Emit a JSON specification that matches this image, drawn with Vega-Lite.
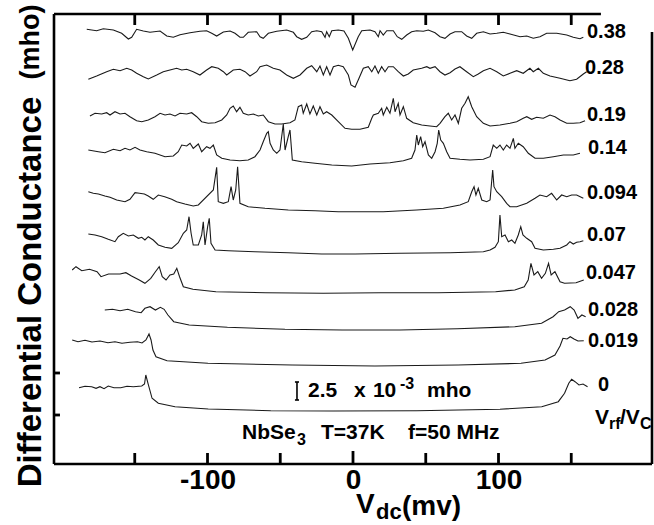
{
"$schema": "https://vega.github.io/schema/vega-lite/v6.json",
"width": 598, "height": 450,
"autosize": "none",
"padding": {"left": 54, "top": 14, "right": 2, "bottom": 61},
"background": "white",
"config": {"view": {"stroke": null}, "axisX": {"domain": false, "ticks": false, "grid": false, "title": null, "labelFont": "Liberation Sans", "labelFontSize": 28, "labelFontWeight": "bold", "labelColor": "black", "labelPadding": 2, "labelFlush": false}},
"datasets": {
"curves": [
{"c":"0.38","v":-183.0,"g":434.7},{"c":"0.38","v":-176.2,"g":433.3},{"c":"0.38","v":-171.6,"g":435.3},{"c":"0.38","v":-164.7,"g":434},{"c":"0.38","v":-159.0,"g":430.7},{"c":"0.38","v":-154.4,"g":425},{"c":"0.38","v":-152.1,"g":426.7},{"c":"0.38","v":-148.7,"g":434.7},{"c":"0.38","v":-144.1,"g":433},{"c":"0.38","v":-139.5,"g":431.7},{"c":"0.38","v":-132.6,"g":433},{"c":"0.38","v":-128.0,"g":428},{"c":"0.38","v":-123.5,"g":426.7},{"c":"0.38","v":-118.9,"g":429.3},{"c":"0.38","v":-112.0,"g":431.3},{"c":"0.38","v":-105.2,"g":432.7},{"c":"0.38","v":-100.6,"g":433.3},{"c":"0.38","v":-97.1,"g":430.7},{"c":"0.38","v":-93.7,"g":428},{"c":"0.38","v":-89.1,"g":432},{"c":"0.38","v":-84.5,"g":433},{"c":"0.38","v":-81.1,"g":430.7},{"c":"0.38","v":-77.7,"g":426.7},{"c":"0.38","v":-75.4,"g":426.7},{"c":"0.38","v":-72.0,"g":431.7},{"c":"0.38","v":-66.2,"g":432.3},{"c":"0.38","v":-63.9,"g":427.3},{"c":"0.38","v":-61.7,"g":425.7},{"c":"0.38","v":-58.2,"g":430.7},{"c":"0.38","v":-52.4,"g":432.7},{"c":"0.38","v":-45.6,"g":434},{"c":"0.38","v":-41.0,"g":431.7},{"c":"0.38","v":-38.7,"g":427.3},{"c":"0.38","v":-35.3,"g":424.7},{"c":"0.38","v":-31.8,"g":426.7},{"c":"0.38","v":-28.4,"g":432.3},{"c":"0.38","v":-24.9,"g":433.3},{"c":"0.38","v":-21.5,"g":432.3},{"c":"0.38","v":-19.2,"g":426.7},{"c":"0.38","v":-18.1,"g":432.3},{"c":"0.38","v":-16.3,"g":427.3},{"c":"0.38","v":-14.6,"g":433.3},{"c":"0.38","v":-10.1,"g":434},{"c":"0.38","v":-6.2,"g":433},{"c":"0.38","v":-3.2,"g":425.7},{"c":"0.38","v":-0.2,"g":414},{"c":"0.38","v":3.6,"g":427.3},{"c":"0.38","v":6.0,"g":433.3},{"c":"0.38","v":11.7,"g":434},{"c":"0.38","v":15.1,"g":432.3},{"c":"0.38","v":17.4,"g":427.3},{"c":"0.38","v":18.6,"g":433.3},{"c":"0.38","v":20.8,"g":429},{"c":"0.38","v":23.2,"g":433.3},{"c":"0.38","v":27.7,"g":433.3},{"c":"0.38","v":30.4,"g":427.3},{"c":"0.38","v":33.5,"g":424.7},{"c":"0.38","v":36.9,"g":429},{"c":"0.38","v":40.3,"g":432.3},{"c":"0.38","v":43.8,"g":433.3},{"c":"0.38","v":48.3,"g":432.7},{"c":"0.38","v":51.8,"g":434},{"c":"0.38","v":56.4,"g":431.3},{"c":"0.38","v":59.8,"g":427.3},{"c":"0.38","v":63.2,"g":425.7},{"c":"0.38","v":66.7,"g":430},{"c":"0.38","v":70.1,"g":432.3},{"c":"0.38","v":74.7,"g":432.3},{"c":"0.38","v":78.1,"g":428},{"c":"0.38","v":81.6,"g":425.7},{"c":"0.38","v":85.0,"g":430.7},{"c":"0.38","v":89.6,"g":432.3},{"c":"0.38","v":94.2,"g":430},{"c":"0.38","v":98.8,"g":430.7},{"c":"0.38","v":103.3,"g":431.7},{"c":"0.38","v":107.9,"g":430},{"c":"0.38","v":114.8,"g":427.3},{"c":"0.38","v":119.4,"g":428},{"c":"0.38","v":123.9,"g":425.7},{"c":"0.38","v":128.5,"g":427.3},{"c":"0.38","v":133.1,"g":430.7},{"c":"0.38","v":140.0,"g":430.7},{"c":"0.38","v":146.9,"g":429},{"c":"0.38","v":151.4,"g":426.7},{"c":"0.38","v":156.0,"g":425.3},{"c":"0.38","v":158.3,"g":426.7},

{"c":"0.28","v":-181.9,"g":384.7},{"c":"0.28","v":-176.2,"g":388},{"c":"0.28","v":-169.3,"g":392.3},{"c":"0.28","v":-164.7,"g":394.7},{"c":"0.28","v":-160.1,"g":393.3},{"c":"0.28","v":-155.5,"g":395.7},{"c":"0.28","v":-152.1,"g":394},{"c":"0.28","v":-148.7,"g":390.7},{"c":"0.28","v":-144.1,"g":387.3},{"c":"0.28","v":-140.7,"g":385},{"c":"0.28","v":-134.9,"g":389},{"c":"0.28","v":-130.4,"g":392.3},{"c":"0.28","v":-125.8,"g":394},{"c":"0.28","v":-121.2,"g":395.7},{"c":"0.28","v":-117.7,"g":394},{"c":"0.28","v":-114.3,"g":394.7},{"c":"0.28","v":-109.8,"g":392.3},{"c":"0.28","v":-105.2,"g":389},{"c":"0.28","v":-100.6,"g":394},{"c":"0.28","v":-97.1,"g":397.3},{"c":"0.28","v":-92.6,"g":395.7},{"c":"0.28","v":-89.1,"g":392.3},{"c":"0.28","v":-86.8,"g":389},{"c":"0.28","v":-82.3,"g":394},{"c":"0.28","v":-77.7,"g":394.7},{"c":"0.28","v":-74.2,"g":392.3},{"c":"0.28","v":-70.8,"g":388},{"c":"0.28","v":-66.2,"g":392.3},{"c":"0.28","v":-63.9,"g":397.3},{"c":"0.28","v":-59.3,"g":399},{"c":"0.28","v":-54.8,"g":395.7},{"c":"0.28","v":-50.2,"g":394},{"c":"0.28","v":-45.6,"g":389},{"c":"0.28","v":-41.0,"g":385.7},{"c":"0.28","v":-36.4,"g":389},{"c":"0.28","v":-31.8,"g":395.7},{"c":"0.28","v":-28.4,"g":398.3},{"c":"0.28","v":-24.9,"g":392.3},{"c":"0.28","v":-22.7,"g":398},{"c":"0.28","v":-20.4,"g":389},{"c":"0.28","v":-18.1,"g":397.3},{"c":"0.28","v":-15.8,"g":389},{"c":"0.28","v":-13.5,"g":397.3},{"c":"0.28","v":-10.1,"g":398.7},{"c":"0.28","v":-6.7,"g":397.3},{"c":"0.28","v":-3.2,"g":389},{"c":"0.28","v":-1.4,"g":379},{"c":"0.28","v":1.4,"g":376.7},{"c":"0.28","v":3.6,"g":384},{"c":"0.28","v":7.1,"g":395.7},{"c":"0.28","v":10.5,"g":397.3},{"c":"0.28","v":12.9,"g":392.3},{"c":"0.28","v":15.1,"g":398},{"c":"0.28","v":17.4,"g":390.7},{"c":"0.28","v":19.7,"g":397.3},{"c":"0.28","v":22.0,"g":392.3},{"c":"0.28","v":24.3,"g":397.3},{"c":"0.28","v":27.7,"g":397.3},{"c":"0.28","v":31.1,"g":392.3},{"c":"0.28","v":34.6,"g":388},{"c":"0.28","v":38.0,"g":390},{"c":"0.28","v":41.4,"g":394},{"c":"0.28","v":47.2,"g":395.7},{"c":"0.28","v":50.7,"g":397.3},{"c":"0.28","v":52.9,"g":395.7},{"c":"0.28","v":56.4,"g":397.3},{"c":"0.28","v":59.8,"g":392.3},{"c":"0.28","v":63.2,"g":389},{"c":"0.28","v":66.7,"g":391.3},{"c":"0.28","v":70.1,"g":395},{"c":"0.28","v":73.5,"g":397.3},{"c":"0.28","v":78.1,"g":392.3},{"c":"0.28","v":82.7,"g":387.3},{"c":"0.28","v":86.1,"g":390},{"c":"0.28","v":89.6,"g":393.3},{"c":"0.28","v":94.2,"g":395.7},{"c":"0.28","v":98.8,"g":392.3},{"c":"0.28","v":103.3,"g":388},{"c":"0.28","v":107.9,"g":390.7},{"c":"0.28","v":112.5,"g":393.3},{"c":"0.28","v":117.0,"g":390.7},{"c":"0.28","v":121.6,"g":395.7},{"c":"0.28","v":123.9,"g":392.3},{"c":"0.28","v":127.4,"g":395.7},{"c":"0.28","v":130.8,"g":390.7},{"c":"0.28","v":135.4,"g":388},{"c":"0.28","v":142.3,"g":385.7},{"c":"0.28","v":149.1,"g":383.3},{"c":"0.28","v":153.7,"g":384.7},{"c":"0.28","v":158.3,"g":390},{"c":"0.28","v":160.6,"g":392.3},

{"c":"0.19","v":-180.8,"g":348},{"c":"0.19","v":-177.3,"g":350.7},{"c":"0.19","v":-172.7,"g":350},{"c":"0.19","v":-169.3,"g":351.3},{"c":"0.19","v":-167.0,"g":349},{"c":"0.19","v":-163.6,"g":352.3},{"c":"0.19","v":-160.1,"g":350},{"c":"0.19","v":-156.7,"g":350.7},{"c":"0.19","v":-153.3,"g":347.3},{"c":"0.19","v":-148.7,"g":343.3},{"c":"0.19","v":-145.2,"g":342.3},{"c":"0.19","v":-140.7,"g":344},{"c":"0.19","v":-136.1,"g":347.3},{"c":"0.19","v":-132.6,"g":350.7},{"c":"0.19","v":-129.2,"g":349},{"c":"0.19","v":-125.8,"g":350},{"c":"0.19","v":-122.3,"g":348},{"c":"0.19","v":-118.9,"g":350.7},{"c":"0.19","v":-114.3,"g":350},{"c":"0.19","v":-110.9,"g":351.3},{"c":"0.19","v":-107.4,"g":347.3},{"c":"0.19","v":-104.0,"g":342.3},{"c":"0.19","v":-99.5,"g":340.7},{"c":"0.19","v":-94.8,"g":341.3},{"c":"0.19","v":-90.2,"g":344},{"c":"0.19","v":-86.8,"g":349},{"c":"0.19","v":-84.5,"g":355.7},{"c":"0.19","v":-82.3,"g":358},{"c":"0.19","v":-80.0,"g":352.3},{"c":"0.19","v":-77.7,"g":356.7},{"c":"0.19","v":-75.4,"g":350.7},{"c":"0.19","v":-72.0,"g":349},{"c":"0.19","v":-68.5,"g":350},{"c":"0.19","v":-65.1,"g":348},{"c":"0.19","v":-61.7,"g":349},{"c":"0.19","v":-58.2,"g":342.3},{"c":"0.19","v":-53.6,"g":340},{"c":"0.19","v":-49.0,"g":340},{"c":"0.19","v":-43.3,"g":341.3},{"c":"0.19","v":-39.9,"g":344},{"c":"0.19","v":-37.6,"g":357.3},{"c":"0.19","v":-35.3,"g":359},{"c":"0.19","v":-34.2,"g":350.7},{"c":"0.19","v":-31.8,"g":360},{"c":"0.19","v":-29.6,"g":350},{"c":"0.19","v":-27.3,"g":358},{"c":"0.19","v":-24.9,"g":349},{"c":"0.19","v":-22.7,"g":357.3},{"c":"0.19","v":-20.4,"g":350},{"c":"0.19","v":-18.1,"g":352.3},{"c":"0.19","v":-14.6,"g":349},{"c":"0.19","v":-10.1,"g":342.3},{"c":"0.19","v":-5.5,"g":335.7},{"c":"0.19","v":-0.9,"g":334.7},{"c":"0.19","v":4.8,"g":334.7},{"c":"0.19","v":10.5,"g":336.7},{"c":"0.19","v":12.9,"g":345.7},{"c":"0.19","v":14.0,"g":349},{"c":"0.19","v":17.4,"g":350.7},{"c":"0.19","v":19.7,"g":355.7},{"c":"0.19","v":20.8,"g":349},{"c":"0.19","v":23.2,"g":356.7},{"c":"0.19","v":25.4,"g":350.7},{"c":"0.19","v":27.7,"g":365.7},{"c":"0.19","v":28.9,"g":352.3},{"c":"0.19","v":31.1,"g":360.7},{"c":"0.19","v":32.3,"g":349},{"c":"0.19","v":34.6,"g":357.3},{"c":"0.19","v":36.9,"g":345.7},{"c":"0.19","v":41.4,"g":341.3},{"c":"0.19","v":47.2,"g":339},{"c":"0.19","v":52.9,"g":338},{"c":"0.19","v":57.5,"g":337.3},{"c":"0.19","v":59.8,"g":340.7},{"c":"0.19","v":63.2,"g":347.3},{"c":"0.19","v":65.5,"g":350.7},{"c":"0.19","v":67.8,"g":344},{"c":"0.19","v":70.1,"g":349},{"c":"0.19","v":72.4,"g":340.7},{"c":"0.19","v":74.7,"g":355.7},{"c":"0.19","v":77.0,"g":360.7},{"c":"0.19","v":79.2,"g":367.3},{"c":"0.19","v":81.6,"g":357.3},{"c":"0.19","v":85.0,"g":347.3},{"c":"0.19","v":89.6,"g":340.7},{"c":"0.19","v":94.2,"g":338},{"c":"0.19","v":101.0,"g":339},{"c":"0.19","v":107.9,"g":340.7},{"c":"0.19","v":112.5,"g":342.3},{"c":"0.19","v":117.0,"g":345.7},{"c":"0.19","v":119.4,"g":347.3},{"c":"0.19","v":122.8,"g":344.7},{"c":"0.19","v":126.2,"g":346.7},{"c":"0.19","v":130.8,"g":345.7},{"c":"0.19","v":135.4,"g":349},{"c":"0.19","v":138.8,"g":347.3},{"c":"0.19","v":142.3,"g":344},{"c":"0.19","v":146.9,"g":340.7},{"c":"0.19","v":151.4,"g":340.7},{"c":"0.19","v":156.0,"g":341.3},{"c":"0.19","v":159.5,"g":343.3},

{"c":"0.14","v":-181.9,"g":314},{"c":"0.14","v":-175.0,"g":312.3},{"c":"0.14","v":-170.5,"g":311.3},{"c":"0.14","v":-164.7,"g":314.7},{"c":"0.14","v":-160.1,"g":313.3},{"c":"0.14","v":-156.7,"g":315.7},{"c":"0.14","v":-153.3,"g":314},{"c":"0.14","v":-149.8,"g":316.7},{"c":"0.14","v":-146.4,"g":314},{"c":"0.14","v":-141.8,"g":312.3},{"c":"0.14","v":-136.1,"g":310.7},{"c":"0.14","v":-129.2,"g":307.3},{"c":"0.14","v":-123.5,"g":308},{"c":"0.14","v":-120.1,"g":312.3},{"c":"0.14","v":-117.7,"g":319},{"c":"0.14","v":-114.3,"g":318},{"c":"0.14","v":-112.0,"g":320.7},{"c":"0.14","v":-109.8,"g":315.7},{"c":"0.14","v":-106.3,"g":320},{"c":"0.14","v":-104.0,"g":312.3},{"c":"0.14","v":-100.6,"g":317.3},{"c":"0.14","v":-98.3,"g":315.7},{"c":"0.14","v":-96.0,"g":319},{"c":"0.14","v":-93.7,"g":309},{"c":"0.14","v":-90.2,"g":305.7},{"c":"0.14","v":-84.5,"g":304},{"c":"0.14","v":-77.7,"g":303.3},{"c":"0.14","v":-72.0,"g":304},{"c":"0.14","v":-67.4,"g":307.3},{"c":"0.14","v":-63.9,"g":314},{"c":"0.14","v":-61.7,"g":322.3},{"c":"0.14","v":-59.3,"g":330.7},{"c":"0.14","v":-58.2,"g":332.3},{"c":"0.14","v":-57.0,"g":320.7},{"c":"0.14","v":-54.8,"g":314},{"c":"0.14","v":-52.4,"g":310.7},{"c":"0.14","v":-50.2,"g":314},{"c":"0.14","v":-47.9,"g":340},{"c":"0.14","v":-46.7,"g":314},{"c":"0.14","v":-44.5,"g":327.3},{"c":"0.14","v":-43.3,"g":334},{"c":"0.14","v":-41.7,"g":304},{"c":"0.14","v":-35.3,"g":302.3},{"c":"0.14","v":-26.1,"g":300.7},{"c":"0.14","v":-14.6,"g":299},{"c":"0.14","v":-0.9,"g":298},{"c":"0.14","v":11.7,"g":300},{"c":"0.14","v":25.4,"g":301.3},{"c":"0.14","v":34.6,"g":303.3},{"c":"0.14","v":40.3,"g":305.7},{"c":"0.14","v":42.6,"g":314},{"c":"0.14","v":43.8,"g":329},{"c":"0.14","v":44.9,"g":319},{"c":"0.14","v":46.5,"g":327.3},{"c":"0.14","v":47.9,"g":317.3},{"c":"0.14","v":49.5,"g":322.3},{"c":"0.14","v":51.8,"g":309},{"c":"0.14","v":54.1,"g":305.7},{"c":"0.14","v":56.4,"g":312.3},{"c":"0.14","v":57.9,"g":320.7},{"c":"0.14","v":58.9,"g":334},{"c":"0.14","v":60.3,"g":324},{"c":"0.14","v":62.1,"g":320.7},{"c":"0.14","v":64.4,"g":312.3},{"c":"0.14","v":66.7,"g":305.7},{"c":"0.14","v":73.5,"g":304.7},{"c":"0.14","v":80.4,"g":304},{"c":"0.14","v":89.6,"g":304.7},{"c":"0.14","v":94.2,"g":307.3},{"c":"0.14","v":96.4,"g":319},{"c":"0.14","v":98.8,"g":315.7},{"c":"0.14","v":101.0,"g":319},{"c":"0.14","v":103.3,"g":314},{"c":"0.14","v":105.6,"g":319},{"c":"0.14","v":107.9,"g":315.7},{"c":"0.14","v":110.2,"g":325.7},{"c":"0.14","v":111.3,"g":315.7},{"c":"0.14","v":113.6,"g":320.7},{"c":"0.14","v":117.0,"g":317.3},{"c":"0.14","v":120.5,"g":310.7},{"c":"0.14","v":125.1,"g":305.7},{"c":"0.14","v":130.8,"g":305.7},{"c":"0.14","v":137.7,"g":307.3},{"c":"0.14","v":144.6,"g":309},{"c":"0.14","v":151.4,"g":309},{"c":"0.14","v":156.0,"g":310.7},

{"c":"0.094","v":-181.9,"g":272.3},{"c":"0.094","v":-178.5,"g":270.7},{"c":"0.094","v":-175.0,"g":270},{"c":"0.094","v":-170.5,"g":268},{"c":"0.094","v":-167.0,"g":266.7},{"c":"0.094","v":-162.4,"g":264},{"c":"0.094","v":-156.7,"g":262.3},{"c":"0.094","v":-153.3,"g":264.7},{"c":"0.094","v":-149.8,"g":271.3},{"c":"0.094","v":-146.8,"g":270.7},{"c":"0.094","v":-143.4,"g":270},{"c":"0.094","v":-140.7,"g":268},{"c":"0.094","v":-137.3,"g":264.7},{"c":"0.094","v":-133.8,"g":269},{"c":"0.094","v":-129.4,"g":267.3},{"c":"0.094","v":-124.6,"g":264.7},{"c":"0.094","v":-121.2,"g":262.3},{"c":"0.094","v":-115.5,"g":260},{"c":"0.094","v":-109.8,"g":258},{"c":"0.094","v":-106.3,"g":259},{"c":"0.094","v":-96.0,"g":274},{"c":"0.094","v":-93.7,"g":296.7},{"c":"0.094","v":-92.6,"g":262.3},{"c":"0.094","v":-89.1,"g":260.7},{"c":"0.094","v":-85.7,"g":262.3},{"c":"0.094","v":-83.8,"g":277.3},{"c":"0.094","v":-82.3,"g":264},{"c":"0.094","v":-80.6,"g":274},{"c":"0.094","v":-79.3,"g":297.3},{"c":"0.094","v":-77.7,"g":260.7},{"c":"0.094","v":-72.0,"g":257.3},{"c":"0.094","v":-60.5,"g":255.7},{"c":"0.094","v":-44.5,"g":254},{"c":"0.094","v":-26.1,"g":253.3},{"c":"0.094","v":-10.1,"g":252.3},{"c":"0.094","v":1.4,"g":252.3},{"c":"0.094","v":20.8,"g":252.3},{"c":"0.094","v":43.8,"g":254},{"c":"0.094","v":62.1,"g":255.7},{"c":"0.094","v":73.5,"g":259},{"c":"0.094","v":79.2,"g":262.3},{"c":"0.094","v":81.6,"g":272.3},{"c":"0.094","v":83.2,"g":277.3},{"c":"0.094","v":84.5,"g":269},{"c":"0.094","v":86.1,"g":275.7},{"c":"0.094","v":88.5,"g":264},{"c":"0.094","v":91.9,"g":262.3},{"c":"0.094","v":94.2,"g":264},{"c":"0.094","v":96.0,"g":294},{"c":"0.094","v":96.9,"g":277.3},{"c":"0.094","v":98.8,"g":272.3},{"c":"0.094","v":102.2,"g":267.3},{"c":"0.094","v":105.6,"g":260.7},{"c":"0.094","v":107.9,"g":257.3},{"c":"0.094","v":112.5,"g":257.3},{"c":"0.094","v":119.4,"g":260.7},{"c":"0.094","v":125.1,"g":265.7},{"c":"0.094","v":128.5,"g":269},{"c":"0.094","v":133.1,"g":267.3},{"c":"0.094","v":136.5,"g":270.7},{"c":"0.094","v":140.0,"g":264},{"c":"0.094","v":143.4,"g":269},{"c":"0.094","v":146.9,"g":267.3},{"c":"0.094","v":150.3,"g":269},{"c":"0.094","v":153.7,"g":269},{"c":"0.094","v":158.3,"g":265.7},

{"c":"0.07","v":-181.9,"g":230},{"c":"0.07","v":-177.3,"g":229},{"c":"0.07","v":-172.7,"g":227.3},{"c":"0.07","v":-168.2,"g":224.7},{"c":"0.07","v":-163.6,"g":222.3},{"c":"0.07","v":-161.3,"g":227.3},{"c":"0.07","v":-157.9,"g":230.7},{"c":"0.07","v":-154.4,"g":228},{"c":"0.07","v":-151.0,"g":229},{"c":"0.07","v":-147.5,"g":225.7},{"c":"0.07","v":-145.2,"g":226.7},{"c":"0.07","v":-143.0,"g":224},{"c":"0.07","v":-140.7,"g":227.3},{"c":"0.07","v":-137.3,"g":224},{"c":"0.07","v":-133.8,"g":219},{"c":"0.07","v":-129.2,"g":216.7},{"c":"0.07","v":-124.6,"g":215.7},{"c":"0.07","v":-120.1,"g":221.3},{"c":"0.07","v":-116.6,"g":230.7},{"c":"0.07","v":-114.3,"g":234},{"c":"0.07","v":-112.7,"g":247.3},{"c":"0.07","v":-111.3,"g":231},{"c":"0.07","v":-109.8,"g":219},{"c":"0.07","v":-106.3,"g":219},{"c":"0.07","v":-104.0,"g":229},{"c":"0.07","v":-102.9,"g":242.3},{"c":"0.07","v":-101.7,"g":219},{"c":"0.07","v":-99.9,"g":237.3},{"c":"0.07","v":-98.8,"g":245.7},{"c":"0.07","v":-97.6,"g":220.7},{"c":"0.07","v":-94.8,"g":214},{"c":"0.07","v":-85.7,"g":213.3},{"c":"0.07","v":-67.4,"g":212.3},{"c":"0.07","v":-44.5,"g":211.3},{"c":"0.07","v":-21.5,"g":210},{"c":"0.07","v":1.4,"g":210},{"c":"0.07","v":32.3,"g":210.7},{"c":"0.07","v":66.7,"g":211.3},{"c":"0.07","v":89.6,"g":212.3},{"c":"0.07","v":94.2,"g":214},{"c":"0.07","v":97.6,"g":216.7},{"c":"0.07","v":99.9,"g":222.3},{"c":"0.07","v":101.0,"g":249},{"c":"0.07","v":102.2,"g":227.3},{"c":"0.07","v":104.5,"g":229},{"c":"0.07","v":106.8,"g":222.3},{"c":"0.07","v":109.1,"g":224},{"c":"0.07","v":111.3,"g":220.7},{"c":"0.07","v":113.6,"g":229},{"c":"0.07","v":115.3,"g":237.3},{"c":"0.07","v":116.8,"g":229},{"c":"0.07","v":119.4,"g":225.7},{"c":"0.07","v":122.8,"g":222.3},{"c":"0.07","v":125.1,"g":215.7},{"c":"0.07","v":130.8,"g":214},{"c":"0.07","v":137.7,"g":214.7},{"c":"0.07","v":142.3,"g":215.7},{"c":"0.07","v":146.9,"g":219},{"c":"0.07","v":149.1,"g":222.3},{"c":"0.07","v":151.4,"g":220},{"c":"0.07","v":153.7,"g":221.7},{"c":"0.07","v":156.0,"g":222.3},{"c":"0.07","v":158.3,"g":223.3},

{"c":"0.047","v":-193.0,"g":194},{"c":"0.047","v":-190.4,"g":197.3},{"c":"0.047","v":-186.4,"g":193.3},{"c":"0.047","v":-181.1,"g":194.7},{"c":"0.047","v":-175.9,"g":192.3},{"c":"0.047","v":-173.2,"g":187.3},{"c":"0.047","v":-168.0,"g":190},{"c":"0.047","v":-160.1,"g":190},{"c":"0.047","v":-156.1,"g":191.3},{"c":"0.047","v":-152.2,"g":188},{"c":"0.047","v":-146.9,"g":184},{"c":"0.047","v":-143.0,"g":180.7},{"c":"0.047","v":-139.0,"g":185.7},{"c":"0.047","v":-135.8,"g":192.3},{"c":"0.047","v":-133.2,"g":197.3},{"c":"0.047","v":-131.1,"g":187.3},{"c":"0.047","v":-128.5,"g":184},{"c":"0.047","v":-125.8,"g":189},{"c":"0.047","v":-123.2,"g":190},{"c":"0.047","v":-121.1,"g":195.7},{"c":"0.047","v":-119.2,"g":187.3},{"c":"0.047","v":-116.6,"g":177.3},{"c":"0.047","v":-110.0,"g":174.7},{"c":"0.047","v":-94.2,"g":172.3},{"c":"0.047","v":-60.0,"g":171.3},{"c":"0.047","v":-20.5,"g":170.7},{"c":"0.047","v":19.0,"g":171.3},{"c":"0.047","v":58.4,"g":171.3},{"c":"0.047","v":98.0,"g":172.3},{"c":"0.047","v":111.2,"g":174},{"c":"0.047","v":117.7,"g":177.3},{"c":"0.047","v":120.4,"g":184},{"c":"0.047","v":122.3,"g":200.7},{"c":"0.047","v":124.4,"g":189},{"c":"0.047","v":127.0,"g":192.3},{"c":"0.047","v":129.6,"g":185.7},{"c":"0.047","v":132.2,"g":190.7},{"c":"0.047","v":134.4,"g":200.7},{"c":"0.047","v":136.2,"g":189},{"c":"0.047","v":138.8,"g":192.3},{"c":"0.047","v":142.3,"g":182.3},{"c":"0.047","v":145.4,"g":180.7},{"c":"0.047","v":153.3,"g":181.3},{"c":"0.047","v":158.6,"g":184},

{"c":"0.028","v":-170.6,"g":154},{"c":"0.028","v":-165.3,"g":154.7},{"c":"0.028","v":-160.1,"g":153.3},{"c":"0.028","v":-154.8,"g":154.7},{"c":"0.028","v":-149.5,"g":152.3},{"c":"0.028","v":-145.6,"g":151.3},{"c":"0.028","v":-143.0,"g":155.7},{"c":"0.028","v":-139.5,"g":157.3},{"c":"0.028","v":-135.8,"g":154},{"c":"0.028","v":-132.4,"g":156.7},{"c":"0.028","v":-129.8,"g":154.7},{"c":"0.028","v":-127.2,"g":149},{"c":"0.028","v":-123.2,"g":142.3},{"c":"0.028","v":-112.6,"g":139},{"c":"0.028","v":-86.3,"g":136.7},{"c":"0.028","v":-46.8,"g":134.7},{"c":"0.028","v":-7.3,"g":134},{"c":"0.028","v":32.2,"g":134},{"c":"0.028","v":71.7,"g":135.3},{"c":"0.028","v":111.2,"g":137.3},{"c":"0.028","v":129.6,"g":140.7},{"c":"0.028","v":137.5,"g":147.3},{"c":"0.028","v":141.4,"g":152.3},{"c":"0.028","v":145.4,"g":154},{"c":"0.028","v":149.3,"g":157.3},{"c":"0.028","v":152.0,"g":154},{"c":"0.028","v":154.6,"g":145.7},{"c":"0.028","v":157.3,"g":149},{"c":"0.028","v":159.9,"g":147.3},

{"c":"0.019","v":-193.0,"g":124},{"c":"0.019","v":-189.0,"g":122.3},{"c":"0.019","v":-184.2,"g":123.7},{"c":"0.019","v":-179.4,"g":122},{"c":"0.019","v":-173.9,"g":123},{"c":"0.019","v":-168.4,"g":121.3},{"c":"0.019","v":-163.6,"g":122.3},{"c":"0.019","v":-158.8,"g":120.7},{"c":"0.019","v":-153.3,"g":121.7},{"c":"0.019","v":-148.1,"g":122.3},{"c":"0.019","v":-145.0,"g":121},{"c":"0.019","v":-142.3,"g":124},{"c":"0.019","v":-140.2,"g":130},{"c":"0.019","v":-138.8,"g":124},{"c":"0.019","v":-137.5,"g":114},{"c":"0.019","v":-135.4,"g":107.3},{"c":"0.019","v":-127.8,"g":103.3},{"c":"0.019","v":-99.7,"g":100.7},{"c":"0.019","v":-41.9,"g":99},{"c":"0.019","v":15.1,"g":98},{"c":"0.019","v":72.2,"g":99},{"c":"0.019","v":115.5,"g":100.7},{"c":"0.019","v":132.0,"g":104},{"c":"0.019","v":138.8,"g":109},{"c":"0.019","v":142.3,"g":118},{"c":"0.019","v":144.3,"g":125.7},{"c":"0.019","v":147.1,"g":125},{"c":"0.019","v":149.3,"g":127.3},{"c":"0.019","v":151.9,"g":125},{"c":"0.019","v":154.6,"g":123},{"c":"0.019","v":158.6,"g":123.3},

{"c":"0","v":-188.3,"g":76.3},{"c":"0","v":-184.2,"g":77.7},{"c":"0","v":-179.6,"g":77.3},{"c":"0","v":-176.6,"g":75.7},{"c":"0","v":-173.9,"g":77.3},{"c":"0","v":-171.1,"g":75.3},{"c":"0","v":-168.2,"g":78},{"c":"0","v":-164.3,"g":76.3},{"c":"0","v":-159.6,"g":76.3},{"c":"0","v":-155.3,"g":77.7},{"c":"0","v":-151.0,"g":77.3},{"c":"0","v":-145.2,"g":78},{"c":"0","v":-143.3,"g":80},{"c":"0","v":-142.4,"g":89},{"c":"0","v":-140.9,"g":80.7},{"c":"0","v":-138.1,"g":65.7},{"c":"0","v":-133.8,"g":60.7},{"c":"0","v":-122.3,"g":57.3},{"c":"0","v":-99.5,"g":55},{"c":"0","v":-56.5,"g":53.3},{"c":"0","v":-13.5,"g":53},{"c":"0","v":43.8,"g":53.3},{"c":"0","v":101.0,"g":54.7},{"c":"0","v":129.7,"g":57.3},{"c":"0","v":141.1,"g":62.3},{"c":"0","v":145.4,"g":70.7},{"c":"0","v":148.3,"g":80.7},{"c":"0","v":150.3,"g":84.7},{"c":"0","v":152.6,"g":82.3},{"c":"0","v":155.3,"g":79},{"c":"0","v":158.1,"g":80},{"c":"0","v":161.2,"g":77.3}
],
"labels": [
{"t":"0.38","v":160.8,"g":432},{"t":"0.28","v":159.5,"g":396},{"t":"0.19","v":160.8,"g":349},{"t":"0.14","v":161.5,"g":316},{"t":"0.094","v":160.8,"g":271},{"t":"0.07","v":160.8,"g":229},{"t":"0.047","v":160.1,"g":191},{"t":"0.028","v":161.5,"g":154},{"t":"0.019","v":161.5,"g":123},{"t":"0","v":168.4,"g":79}
],
"ann": [
{"t":"2.5","v":-30.9,"g":73},{"t":"x","v":0.7,"g":73},{"t":"10","v":13.7,"g":73},{"t":"mho","v":50.9,"g":73},
{"t":"NbSe","v":-76.3,"g":31},{"t":"T=37K","v":-22.0,"g":31},{"t":"f=50 MHz","v":37.8,"g":31},
{"t":"V","v":166.3,"g":46},{"t":"/V","v":183.5,"g":46}
],
"scripts": [
{"t":"-3","v":32.3,"g":80},{"t":"3","v":-38.5,"g":24},{"t":"rf","v":176.0,"g":40},{"t":"C","v":197.3,"g":40}
],
"ytitle": [
{"t":"Differential Conductance","v":-221.3,"g":172}
],
"ytitle2": [
{"t":"(mho)","v":-221.3,"g":422}
],
"xtitle": [
{"t":"V","v":2.1,"g":-41},{"t":"(mv)","v":33.7,"g":-43}
],
"xsub": [
{"t":"dc","v":15.8,"g":-48}
],
"ticks": [
{"x":-150,"x2":-150,"y":0,"y2":11},{"x":-100,"x2":-100,"y":0,"y2":11},{"x":-50,"x2":-50,"y":0,"y2":11},{"x":0,"x2":0,"y":0,"y2":13},{"x":50,"x2":50,"y":0,"y2":11},{"x":100,"x2":100,"y":0,"y2":11},{"x":150,"x2":150,"y":0,"y2":11},
{"x":-150,"x2":-150,"y":450,"y2":439},{"x":-100,"x2":-100,"y":450,"y2":439},{"x":-50,"x2":-50,"y":450,"y2":439},{"x":0,"x2":0,"y":450,"y2":439},{"x":50,"x2":50,"y":450,"y2":439},{"x":100,"x2":100,"y":450,"y2":439},{"x":150,"x2":150,"y":450,"y2":439},
{"x":-205.5,"x2":-201.4,"y":91,"y2":91},{"x":-205.5,"x2":-201.4,"y":49,"y2":49}
],
"frame": [
{"x":-205.5,"x2":205.5,"y":0,"y2":0},{"x":-205.5,"x2":-205.5,"y":0,"y2":450},{"x":-205.5,"x2":170.4,"y":450,"y2":450},{"x":205.5,"x2":205.5,"y":0,"y2":432}
],
"scalebar": [
{"x":-38.5,"x2":-38.5,"y":64,"y2":82},{"x":-39.9,"x2":-37.1,"y":82,"y2":82},{"x":-39.9,"x2":-37.1,"y":64,"y2":64}
]
},
"layer": [
{
"data": {"name": "curves"},
"mark": {"type": "line", "color": "#1a1a1a", "strokeWidth": 1.1, "interpolate": "linear"},
"encoding": {
"x": {"field": "v", "type": "quantitative", "scale": {"domain": [-205.5, 205.5], "nice": false, "zero": false},
"axis": {"values": [-100, 0, 100], "labelExpr": "replace(datum.label, '\u2212', '-')"}},
"y": {"field": "g", "type": "quantitative", "scale": {"domain": [0, 450], "nice": false, "zero": false}, "axis": null},
"detail": {"field": "c", "type": "nominal"}
}
},
{
"data": {"name": "frame"},
"mark": {"type": "rule", "color": "black", "strokeWidth": 2.6},
"encoding": {
"x": {"field": "x", "type": "quantitative", "scale": {"domain": [-205.5, 205.5], "nice": false, "zero": false}},
"x2": {"field": "x2"},
"y": {"field": "y", "type": "quantitative", "scale": {"domain": [0, 450], "nice": false, "zero": false}, "axis": null},
"y2": {"field": "y2"}
}
},
{
"data": {"name": "ticks"},
"mark": {"type": "rule", "color": "black", "strokeWidth": 2.8},
"encoding": {
"x": {"field": "x", "type": "quantitative", "scale": {"domain": [-205.5, 205.5], "nice": false, "zero": false}},
"x2": {"field": "x2"},
"y": {"field": "y", "type": "quantitative", "scale": {"domain": [0, 450], "nice": false, "zero": false}, "axis": null},
"y2": {"field": "y2"}
}
},
{
"data": {"name": "scalebar"},
"mark": {"type": "rule", "color": "black", "strokeWidth": 1.6},
"encoding": {
"x": {"field": "x", "type": "quantitative", "scale": {"domain": [-205.5, 205.5], "nice": false, "zero": false}},
"x2": {"field": "x2"},
"y": {"field": "y", "type": "quantitative", "scale": {"domain": [0, 450], "nice": false, "zero": false}, "axis": null},
"y2": {"field": "y2"}
}
},
{
"data": {"name": "labels"},
"mark": {"type": "text", "font": "Liberation Sans", "fontWeight": "bold", "fontSize": 20, "align": "left", "baseline": "middle", "color": "black"},
"encoding": {
"x": {"field": "v", "type": "quantitative", "scale": {"domain": [-205.5, 205.5], "nice": false, "zero": false}},
"y": {"field": "g", "type": "quantitative", "scale": {"domain": [0, 450], "nice": false, "zero": false}, "axis": null},
"text": {"field": "t"}
}
},
{
"data": {"name": "ann"},
"mark": {"type": "text", "font": "Liberation Sans", "fontWeight": "bold", "fontSize": 21, "align": "left", "baseline": "middle", "color": "black"},
"encoding": {
"x": {"field": "v", "type": "quantitative", "scale": {"domain": [-205.5, 205.5], "nice": false, "zero": false}},
"y": {"field": "g", "type": "quantitative", "scale": {"domain": [0, 450], "nice": false, "zero": false}, "axis": null},
"text": {"field": "t"}
}
},
{
"data": {"name": "scripts"},
"mark": {"type": "text", "font": "Liberation Sans", "fontWeight": "bold", "fontSize": 16, "align": "left", "baseline": "middle", "color": "black"},
"encoding": {
"x": {"field": "v", "type": "quantitative", "scale": {"domain": [-205.5, 205.5], "nice": false, "zero": false}},
"y": {"field": "g", "type": "quantitative", "scale": {"domain": [0, 450], "nice": false, "zero": false}, "axis": null},
"text": {"field": "t"}
}
},
{
"data": {"name": "ytitle"},
"mark": {"type": "text", "font": "Liberation Sans", "fontWeight": "bold", "fontSize": 33, "align": "center", "baseline": "middle", "angle": 270, "color": "black"},
"encoding": {
"x": {"field": "v", "type": "quantitative", "scale": {"domain": [-205.5, 205.5], "nice": false, "zero": false}},
"y": {"field": "g", "type": "quantitative", "scale": {"domain": [0, 450], "nice": false, "zero": false}, "axis": null},
"text": {"field": "t"}
}
},
{
"data": {"name": "ytitle2"},
"mark": {"type": "text", "font": "Liberation Sans", "fontWeight": "bold", "fontSize": 27, "align": "center", "baseline": "middle", "angle": 270, "color": "black"},
"encoding": {
"x": {"field": "v", "type": "quantitative", "scale": {"domain": [-205.5, 205.5], "nice": false, "zero": false}},
"y": {"field": "g", "type": "quantitative", "scale": {"domain": [0, 450], "nice": false, "zero": false}, "axis": null},
"text": {"field": "t"}
}
},
{
"data": {"name": "xtitle"},
"mark": {"type": "text", "font": "Liberation Sans", "fontWeight": "bold", "fontSize": 28, "align": "left", "baseline": "middle", "color": "black"},
"encoding": {
"x": {"field": "v", "type": "quantitative", "scale": {"domain": [-205.5, 205.5], "nice": false, "zero": false}},
"y": {"field": "g", "type": "quantitative", "scale": {"domain": [0, 450], "nice": false, "zero": false}, "axis": null},
"text": {"field": "t"}
}
},
{
"data": {"name": "xsub"},
"mark": {"type": "text", "font": "Liberation Sans", "fontWeight": "bold", "fontSize": 22, "align": "left", "baseline": "middle", "color": "black"},
"encoding": {
"x": {"field": "v", "type": "quantitative", "scale": {"domain": [-205.5, 205.5], "nice": false, "zero": false}},
"y": {"field": "g", "type": "quantitative", "scale": {"domain": [0, 450], "nice": false, "zero": false}, "axis": null},
"text": {"field": "t"}
}
}
]
}
